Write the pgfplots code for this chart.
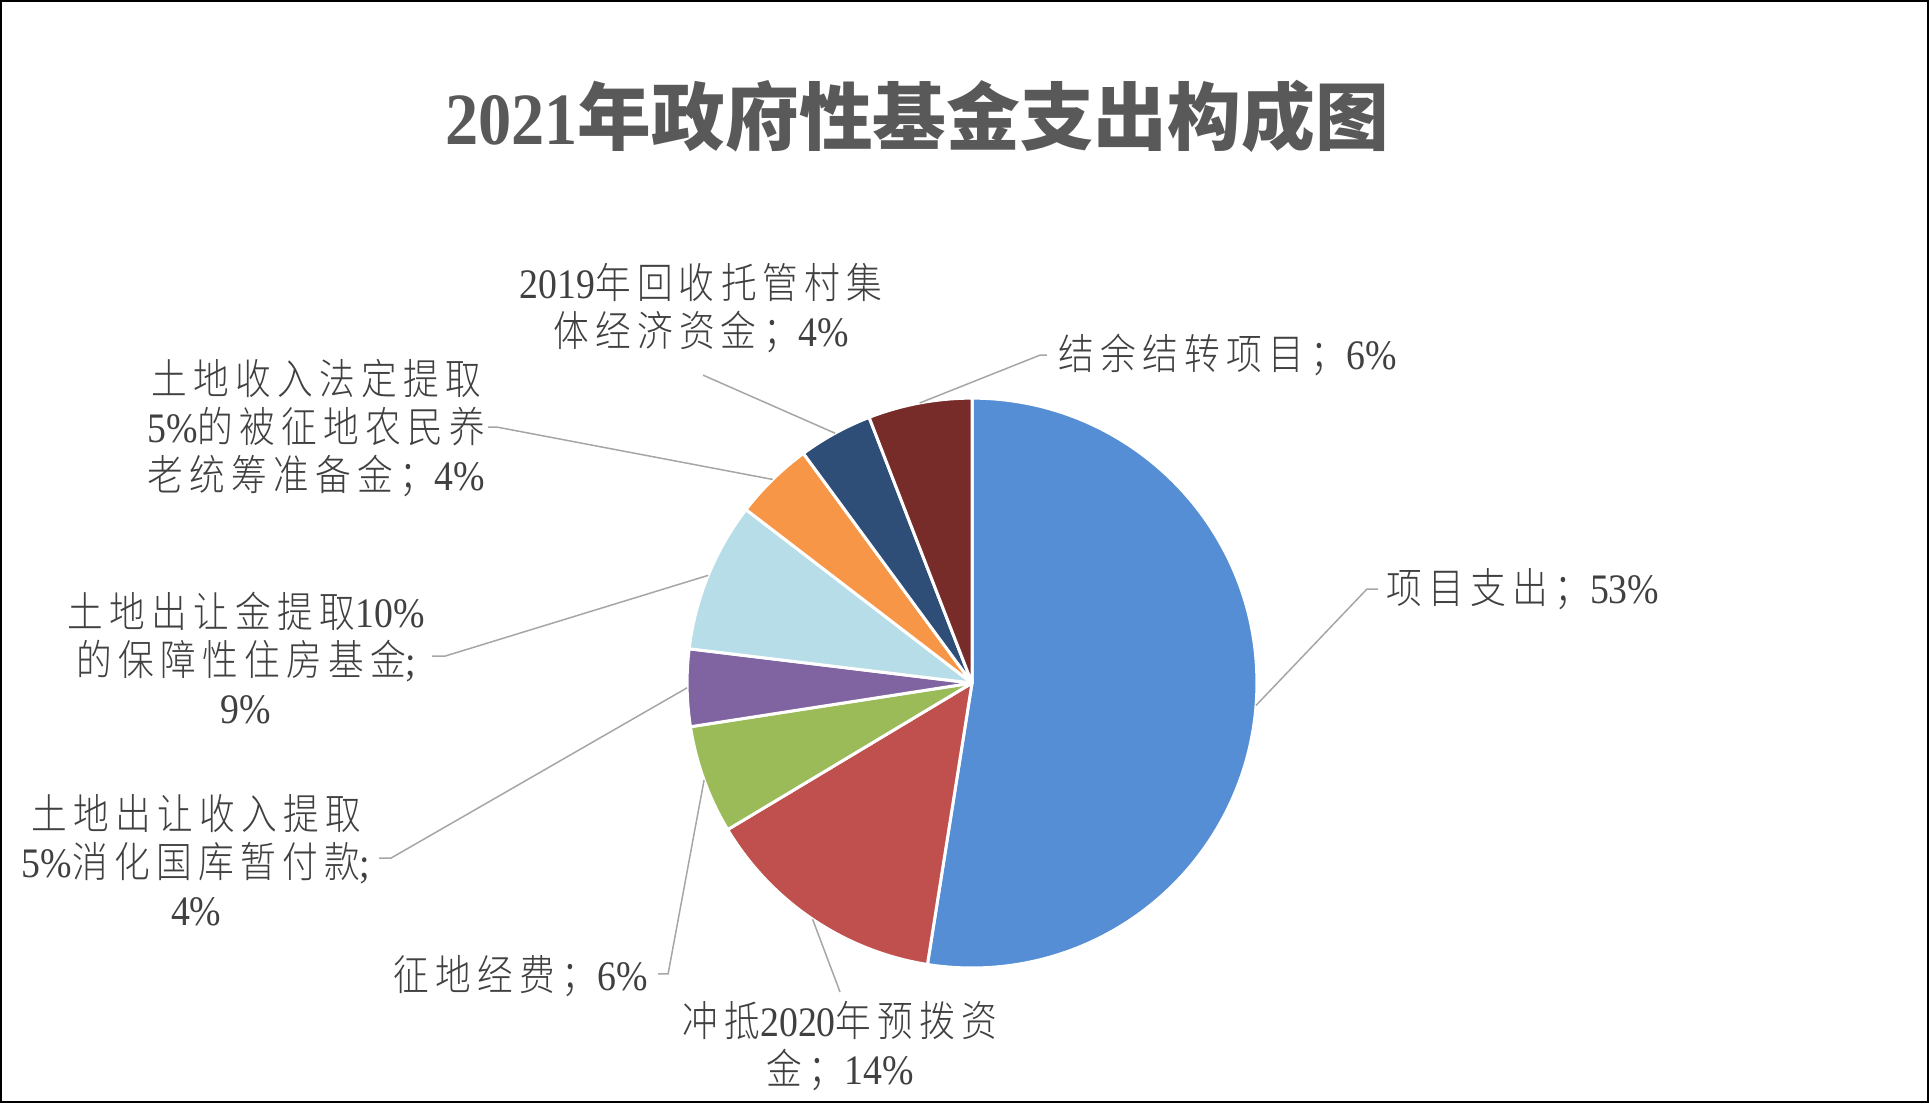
\documentclass[border=0pt]{standalone}
\usepackage{fontspec}
\setmainfont{Liberation Serif}[FakeStretch=0.9]
\newfontfamily\cjk{Noto Sans CJK SC}
\newfontfamily\cjkl{Noto Sans CJK SC Light}[FakeStretch=0.85,LetterSpace=15]
\usepackage{pgfplots}
\usepackage{pgfplotstable}
\pgfplotsset{compat=1.18}
\definecolor{cA}{HTML}{558ED5}
\definecolor{cB}{HTML}{C0504D}
\definecolor{cC}{HTML}{9BBB59}
\definecolor{cD}{HTML}{8064A2}
\definecolor{cE}{HTML}{B7DEE8}
\definecolor{cF}{HTML}{F79646}
\definecolor{cG}{HTML}{2E4E78}
\definecolor{cH}{HTML}{772C2A}
\definecolor{txt}{HTML}{404040}
\definecolor{ttl}{HTML}{595959}
\definecolor{lead}{HTML}{A6A6A6}

% share of each slice (percent), clockwise from 12 o'clock
\pgfplotstableread{
val
52.5
13.9
6.15
4.37
8.5
4.5
4.2
5.88
}\piedata

\newcommand\lf{\fontsize{16.8}{19.2}\selectfont}
\newcommand\slice[2]{\fill[#2,draw=white,line width=1.2pt,line join=round] (axis cs:972,420) -- ++({\csname ps#1\endcsname}:114pt) arc[start angle={\csname ps#1\endcsname}, end angle={\csname pe#1\endcsname}, radius=114pt] -- cycle;}
\newcommand\leader[2]{\draw[lead,line width=0.6pt] (axis cs:972,420) ++({\csname pm#1\endcsname}:114pt) -- #2;}

\begin{document}
\begin{tikzpicture}
\gdef\cum{0}
\foreach \i in {0,...,7}{%
  \pgfplotstablegetelem{\i}{val}\of\piedata
  \pgfmathsetmacro\s{90-3.6*\cum}%
  \pgfmathsetmacro\newcum{\cum+\pgfplotsretval}%
  \pgfmathsetmacro\e{90-3.6*\newcum}%
  \pgfmathsetmacro\m{(\s+\e)/2}%
  \expandafter\xdef\csname ps\i\endcsname{\s}%
  \expandafter\xdef\csname pe\i\endcsname{\e}%
  \expandafter\xdef\csname pm\i\endcsname{\m}%
  \xdef\cum{\newcum}%
}
\begin{axis}[x=0.4pt,y=0.4pt,xmin=0,xmax=1929,ymin=0,ymax=1103,hide axis,clip=false]
\draw[black,line width=1pt] (axis cs:1,1) rectangle (axis cs:1928,1102);
\slice{0}{cA}
\slice{1}{cB}
\slice{2}{cC}
\slice{3}{cD}
\slice{4}{cE}
\slice{5}{cF}
\slice{6}{cG}
\slice{7}{cH}
\leader{0}{(axis cs:1367,514) -- (axis cs:1378,514)}
\leader{1}{(axis cs:840,111)}
\leader{2}{(axis cs:668,129) -- (axis cs:658,129)}
\leader{3}{(axis cs:391,245) -- (axis cs:379,245)}
\leader{4}{(axis cs:445,447) -- (axis cs:432,447)}
\leader{5}{(axis cs:497,676) -- (axis cs:488,676)}
\leader{6}{(axis cs:703,728)}
\leader{7}{(axis cs:1040,748) -- (axis cs:1047,748)}
\begin{scope}[every node/.style={txt,font=\lf,inner sep=0pt,align=center}]
\node[anchor=west] at (axis cs:1386,514) {{\cjkl 项目支出；}53\%};
\node at (axis cs:840,57) {{\cjkl 冲抵}2020{\cjkl 年预拨资}\\{\cjkl 金；}14\%};
\node[anchor=east] at (axis cs:648,127) {{\cjkl 征地经费；}6\%};
\node at (axis cs:196,243) {{\cjkl 土地出让收入提取}\\5\%{\cjkl 消化国库暂付款};\\4\%};
\node at (axis cs:246,445) {{\cjkl 土地出让金提取}10\%\\{\cjkl 的保障性住房基金};\\9\%};
\node at (axis cs:316,675) {{\cjkl 土地收入法定提取}\\5\%{\cjkl 的被征地农民养}\\{\cjkl 老统筹准备金；}4\%};
\node at (axis cs:701,795) {2019{\cjkl 年回收托管村集}\\{\cjkl 体经济资金；}4\%};
\node[anchor=west] at (axis cs:1058,748) {{\cjkl 结余结转项目；}6\%};
\end{scope}
\node[ttl,inner sep=0pt,font=\fontsize{29.5}{32}\selectfont\bfseries] at (axis cs:917,987) {2021{\cjk 年政府性基金支出构成图}};
\end{axis}
\end{tikzpicture}
\end{document}
